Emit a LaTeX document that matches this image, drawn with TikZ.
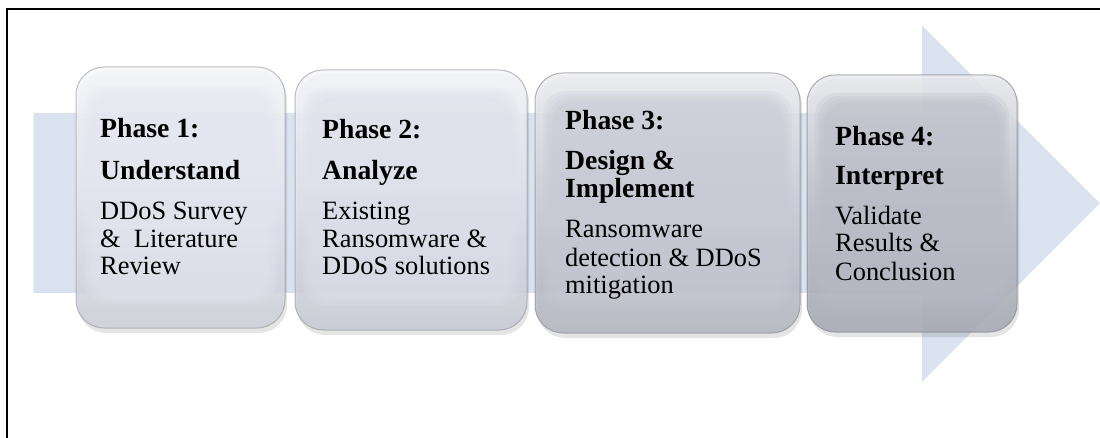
\documentclass[tikz,border=0pt]{standalone}
\usepackage{fontspec}
\setmainfont{Liberation Serif}
\begin{document}
\begin{tikzpicture}[x=1pt,y=-1pt,
  hd/.style={anchor=base west,inner sep=0pt,font=\fontsize{27.7}{30}\selectfont\bfseries},
  bd/.style={anchor=base west,inner sep=0pt,font=\fontsize{26.4}{28}\selectfont},
  shadowbox/.style={rounded corners=28pt,fill=black,fill opacity=0.10,draw=none},
  phasebox/.style={rounded corners=28pt,draw=#1!65!black,line width=1pt,
    top color=#1!30!white,bottom color=#1!90!black,middle color=#1!92!white,
    fill opacity=0.86,draw opacity=0.6},
  innerbox/.style={rounded corners=22pt,fill=#1,fill opacity=0.22,draw=none}
]
\definecolor{arrowblue}{RGB}{218,226,239}
\definecolor{pone}{RGB}{228,230,240}
\definecolor{ptwo}{RGB}{222,224,235}
\definecolor{pthree}{RGB}{199,201,212}
\definecolor{pfour}{RGB}{185,187,198}

\useasboundingbox (0,0) rectangle (1100,438);

% frame (top and left sides)
\coordinate (fbl) at (7,438);
\coordinate (ftl) at (7,9);
\coordinate (ftr) at (1100,9);
\draw[line width=2pt] (fbl) -- (ftl) -- (ftr);

% background arrow
\fill[arrowblue] (33,113) -- (922,113) -- (922,25) -- (1100,203) -- (922,382)
  -- (922,293) -- (33,293) -- cycle;
\draw[white,opacity=0.7,line width=1pt] (922,25) -- (1100,203);
\draw[white,opacity=0.5,line width=1pt] (33,113) -- (33,293);

% phase boxes: shadow, body, soft inner panel
\foreach \xa/\ya/\xb/\yb/\c in {76/67/285/328/pone,295/70/527/330/ptwo,
    535/73/800/333/pthree,807/75/1017/332/pfour}{
  \fill[shadowbox] (\xa+2,\ya+4) rectangle (\xb+2,\yb+5);
  \path[phasebox=\c] (\xa,\ya) rectangle (\xb,\yb);
  \foreach \d in {0,3,6,9}{
    \fill[innerbox=\c] (\xa+8+\d,\ya+18+\d) rectangle (\xb-8-\d,\yb-24-\d);
  }
}
\node[inner sep=0pt,minimum width=209pt,minimum height=261pt] (b1) at (180.5,197.5) {};
\node[inner sep=0pt,minimum width=232pt,minimum height=260pt] (b2) at (411,200) {};
\node[inner sep=0pt,minimum width=265pt,minimum height=260pt] (b3) at (667.5,203) {};
\node[inner sep=0pt,minimum width=210pt,minimum height=257pt] (b4) at (912,203.5) {};

% Phase 1
\node[hd] (t1a) at (100,138) {Phase 1:};
\node[hd] (t1b) at (100,180) {Understand};
\node[bd] (t1c) at (100,220) {DDoS Survey};
\node[bd] (t1d) at (100,248) {\& \ Literature};
\node[bd] (t1e) at (100,275) {Review};

% Phase 2
\node[hd] (t2a) at (322,139) {Phase 2:};
\node[hd] (t2b) at (322,180) {Analyze};
\node[bd] (t2c) at (322,220) {Existing};
\node[bd] (t2d) at (322,248) {Ransomware \&};
\node[bd] (t2e) at (322,275) {DDoS solutions};

% Phase 3
\node[hd] (t3a) at (565,130) {Phase 3:};
\node[hd] (t3b) at (565,170) {Design \&};
\node[hd] (t3c) at (565,198) {Implement};
\node[bd] (t3d) at (565,238) {Ransomware};
\node[bd] (t3e) at (565,267) {detection \& DDoS};
\node[bd] (t3f) at (565,294) {mitigation};

% Phase 4
\node[hd] (t4a) at (835,146) {Phase 4:};
\node[hd] (t4b) at (835,185) {Interpret};
\node[bd] (t4c) at (835,225) {Validate};
\node[bd] (t4d) at (835,252) {Results \&};
\node[bd] (t4e) at (835,280) {Conclusion};
\end{tikzpicture}
\end{document}
